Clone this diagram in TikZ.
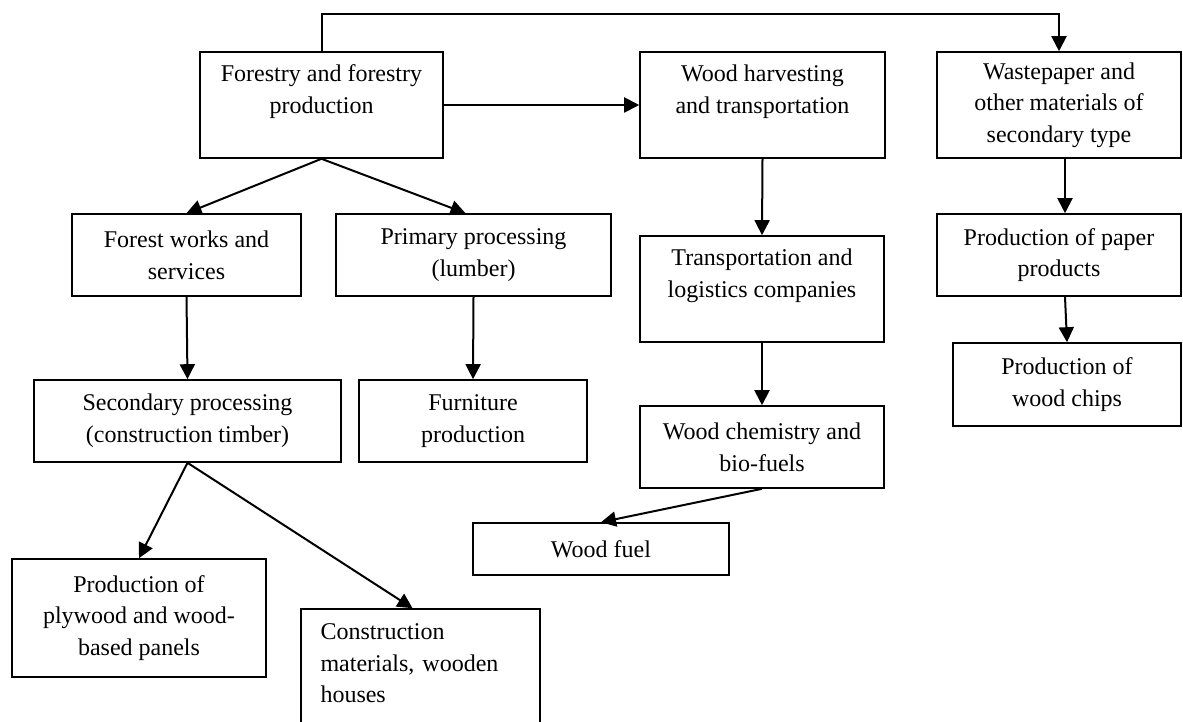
\documentclass[tikz,border=0pt]{standalone}
\usepackage{fontspec}
\setmainfont{Liberation Serif}
\usetikzlibrary{arrows.meta}
\tikzset{
  blk/.style={draw, line width=.8pt, align=center, inner sep=2pt, font=\fontsize{12}{15.8}\selectfont},
  arr/.style={-{Triangle[length=7.5pt,width=7.5pt]}, line width=1pt},
}
\begin{document}
\begin{tikzpicture}[x=.5pt,y=-.5pt]
  \useasboundingbox (0,0) rectangle (1183,722);
  \clip (0,0) rectangle (1183,722);
  % top row
  \node[blk,minimum width=121.5pt,minimum height=53pt] (forestry) at (321.5,105) {Forestry and forestry\\production\\ \mbox{}};
  \node[blk,minimum width=122.5pt,minimum height=53pt] (harvesting) at (762.5,105) {Wood harvesting\\and transportation\\ \mbox{}};
  \node[blk,minimum width=122pt,minimum height=53pt] (wastepaper) at (1059,105) {Wastepaper and\\other materials of\\secondary type};
  % second row
  \node[blk,minimum width=114.5pt,minimum height=41pt] (works) at (186.5,255) {Forest works and\\services};
  \node[blk,minimum width=137.5pt,minimum height=41pt] (primary) at (473.5,255) {Primary processing\\(lumber)};
  \node[blk,minimum width=122pt,minimum height=53pt] (logistics) at (762,289) {Transportation and\\logistics companies\\ \mbox{}};
  \node[blk,minimum width=122pt,minimum height=41pt] (paper) at (1059,255) {Production of paper\\products};
  \node[blk,minimum width=114pt,minimum height=41.5pt] (chips) at (1067,384.5) {Production of\\wood chips};
  % third row
  \node[blk,minimum width=153.5pt,minimum height=41pt] (secondary) at (187.5,421) {Secondary processing\\(construction timber)};
  \node[blk,minimum width=114pt,minimum height=41pt] (furniture) at (473,421) {Furniture\\production};
  \node[blk,minimum width=122pt,minimum height=41pt] (chemistry) at (762,447) {Wood chemistry and\\bio-fuels};
  \node[blk,minimum width=128pt,minimum height=26pt] (fuel) at (601,549) {Wood fuel};
  % bottom
  \node[blk,minimum width=127pt,minimum height=59pt] (plywood) at (139,618) {Production of\\plywood and wood-\\based panels};
  \node[blk,align=left,text width=100pt,inner xsep=9.75pt,minimum height=70pt] (houses) at (420.5,679) {Construction\\materials, wooden\\houses\\ \mbox{}};
  % connectors
  \coordinate (top) at (0,14);
  \draw[arr] (forestry.north) -- (forestry.north |- top) -- (wastepaper.north |- top) -- (wastepaper.north);
  \draw[arr] (forestry.east) -- (harvesting.west);
  \draw[arr] (forestry.south) -- (works.north);
  \draw[arr] (forestry.south) -- ([xshift=-4pt]primary.north);
  \draw[arr] (harvesting.south) -- (logistics.north);
  \draw[arr] (logistics.south) -- (chemistry.north);
  \draw[arr] (chemistry.south) -- (fuel.north);
  \draw[arr] ([xshift=3pt]wastepaper.south) -- ([xshift=3pt]paper.north);
  \draw[arr] ([xshift=3pt]paper.south) -- (chips.north);
  \draw[arr] (works.south) -- (secondary.north);
  \draw[arr] (primary.south) -- (furniture.north);
  \draw[arr] (secondary.south) -- (plywood.north);
  \draw[arr] (secondary.south) -- ([xshift=-4pt]houses.north);
\end{tikzpicture}
\end{document}
